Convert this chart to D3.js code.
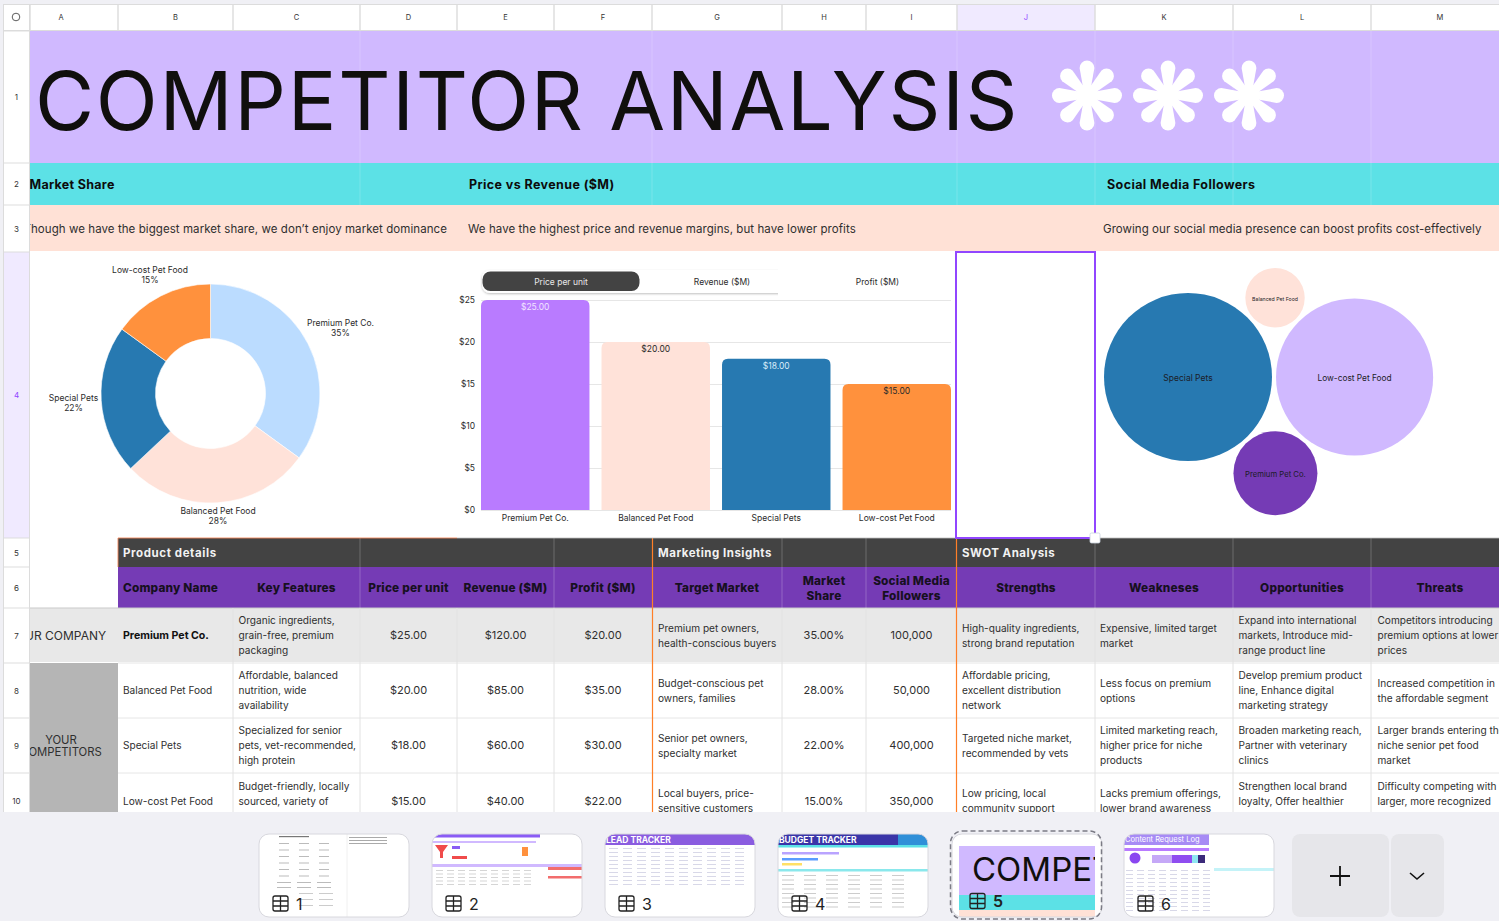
<!DOCTYPE html>
<html>
<head>
<meta charset="utf-8">
<script src="https://cdn.jsdelivr.net/npm/d3@7"></script>
<style>
html, body { margin: 0; padding: 0; background: #f0f0f5; overflow: hidden; }
svg { display: block; font-family: Inter, "Noto Sans", sans-serif; }
text { fill: #2b2b2b; }
</style>
</head>
<body>
<svg id="sheet" width="1499" height="921"></svg>
<script>
const columnLetters = ["A", "B", "C", "D", "E", "F", "G", "H", "I", "J", "K", "L", "M"];
const columnEdges = [30, 118, 233, 360, 457, 554, 652, 782, 866, 957, 1095, 1233, 1371, 1509];
const rowLabels = ["1", "2", "3", "4", "5", "6", "7", "8", "9", "10"];
const rowEdges = [31, 163, 205, 252, 538, 567, 608, 663, 718, 773, 828];

const companies = ["Premium Pet Co.", "Balanced Pet Food", "Special Pets", "Low-cost Pet Food"];
const marketShare = [35, 28, 22, 15];
const pricePerUnit = [25, 20, 18, 15];
const revenue = [120, 85, 60, 40];
const profit = [20, 35, 30, 22];
const followers = [100000, 50000, 400000, 350000];
const priceTicks = [0, 5, 10, 15, 20, 25];
const tabLabels = ["Price per unit", "Revenue ($M)", "Profit ($M)"];

const keyFeatures = [
    ["Organic ingredients,", "grain-free, premium", "packaging"],
    ["Affordable, balanced", "nutrition, wide", "availability"],
    ["Specialized for senior", "pets, vet-recommended,", "high protein"],
    ["Budget-friendly, locally", "sourced, variety of", "options"]
];
const targetMarket = [
    ["Premium pet owners,", "health-conscious buyers"],
    ["Budget-conscious pet", "owners, families"],
    ["Senior pet owners,", "specialty market"],
    ["Local buyers, price-", "sensitive customers"]
];
const strengths = [
    ["High-quality ingredients,", "strong brand reputation"],
    ["Affordable pricing,", "excellent distribution", "network"],
    ["Targeted niche market,", "recommended by vets"],
    ["Low pricing, local", "community support"]
];
const weaknesses = [
    ["Expensive, limited target", "market"],
    ["Less focus on premium", "options"],
    ["Limited marketing reach,", "higher price for niche", "products"],
    ["Lacks premium offerings,", "lower brand awareness"]
];
const opportunities = [
    ["Expand into international", "markets, Introduce mid-", "range product line"],
    ["Develop premium product", "line, Enhance digital", "marketing strategy"],
    ["Broaden marketing reach,", "Partner with veterinary", "clinics"],
    ["Strengthen local brand", "loyalty, Offer healthier", "options"]
];
const threats = [
    ["Competitors introducing", "premium options at lower", "prices"],
    ["Increased competition in", "the affordable segment"],
    ["Larger brands entering the", "niche senior pet food", "market"],
    ["Difficulty competing with", "larger, more recognized", "brands"]
];
const columnTitles = ["Company Name", "Key Features", "Price per unit", "Revenue ($M)", "Profit ($M)",
    "Target Market", ["Market", "Share"], ["Social Media", "Followers"],
    "Strengths", "Weakneses", "Opportunities", "Threats"];

const pieColors = ["#bbdcff", "#ffe2d9", "#2779b1", "#ff913d"];
const barColors = ["#b97bff", "#ffe2d9", "#2779b1", "#ff913d"];
const barTextColors = ["#f1e3ff", "#2b2b2b", "#d8ecfa", "#2b2b2b"];
const bubbleColors = ["#753bb5", "#ffe2d9", "#2779b1", "#d0b9ff"];
const bubbleFontSizes = [7.7, 5.2, 8.5, 8.3];

const svg = d3.select("#sheet");
const defs = svg.append("defs");
defs.append("clipPath").attr("id", "gridClip").append("rect")
    .attr("x", 30).attr("y", 5).attr("width", 1469).attr("height", 807);

const usd = d3.format("$,.2f");

function colX(i) { return columnEdges[i]; }
function colW(i) { return columnEdges[i + 1] - columnEdges[i]; }
function rowY(i) { return rowEdges[i]; }
function rowH(i) { return rowEdges[i + 1] - rowEdges[i]; }

// multi line text centred on y
function addLines(g, lines, x, y, anchor, opts = {}) {
    const lh = opts.lineHeight || 15;
    const list = Array.isArray(lines) ? lines : [lines];
    const t = g.append("text")
        .attr("text-anchor", anchor)
        .attr("font-size", opts.size || 11)
        .attr("font-weight", opts.weight || 400)
        .attr("letter-spacing", opts.spacing || 0)
        .style("fill", opts.color || "#2f2f2f");
    list.forEach((line, i) => {
        t.append("tspan")
            .attr("x", x)
            .attr("y", y + (i - (list.length - 1) / 2) * lh + (opts.size || 11) * 0.36)
            .text(line);
    });
    return t;
}

// ---- page chrome
svg.append("rect").attr("x", 3).attr("y", 4).attr("width", 1496).attr("height", 808).attr("fill", "#dcdcdc");
svg.append("rect").attr("x", 3).attr("y", 31).attr("width", 27).attr("height", 781).attr("fill", "#dcdcdc");

const grid = svg.append("g").attr("clip-path", "url(#gridClip)");
grid.append("rect").attr("x", 30).attr("y", 31).attr("width", 1469).attr("height", 781).attr("fill", "#fff");

// column header
const colHead = svg.append("g");
colHead.append("rect").attr("x", 4).attr("y", 5).attr("width", 25).attr("height", 25).attr("fill", "#fff");
colHead.append("circle").attr("cx", 16).attr("cy", 17).attr("r", 3.8)
    .attr("fill", "none").attr("stroke", "#333").attr("stroke-width", 0.8);
columnLetters.forEach((letter, i) => {
    const selected = letter === "J";
    const labelX = i === 0 ? 61 : colX(i) + colW(i) / 2;
    colHead.append("rect")
        .attr("x", colX(i) + 0.7).attr("y", 5)
        .attr("width", Math.min(colW(i) - 1.4, 1499 - colX(i))).attr("height", 25)
        .attr("fill", selected ? "#f0eaff" : "#fff");
    addLines(colHead, letter, labelX, 17, "middle",
        { size: 7.5, color: selected ? "#9146ff" : "#333" });
});

// row header
rowLabels.forEach((label, i) => {
    const selected = label === "4";
    const bottom = Math.min(rowEdges[i + 1] - 0.5, 812);
    svg.append("rect")
        .attr("x", 4).attr("y", rowY(i) + 0.5)
        .attr("width", 25).attr("height", bottom - rowY(i) - 0.5)
        .attr("fill", selected ? "#f0eaff" : "#fff");
    addLines(svg, label, 16.5, rowY(i) + rowH(i) / 2 + 0.5, "middle",
        { size: 8, color: selected ? "#9146ff" : "#333" });
});

// ---- banner rows
grid.append("rect").attr("x", 30).attr("y", rowY(0)).attr("width", 1469).attr("height", rowH(0)).attr("fill", "#d0b9ff");
grid.append("rect").attr("x", 30).attr("y", rowY(1)).attr("width", 1469).attr("height", rowH(1)).attr("fill", "#5ce1e6");
grid.append("rect").attr("x", 30).attr("y", rowY(2)).attr("width", 1469).attr("height", rowH(2) - 1).attr("fill", "#ffe1d6");

[360, 652, 957, 1095, 1233, 1371].forEach(x => {
    grid.append("line").attr("x1", x).attr("x2", x).attr("y1", rowY(0)).attr("y2", rowY(2))
        .attr("stroke", "#fff").attr("stroke-opacity", 0.18);
});

grid.append("text").attr("x", 35).attr("y", 129.5)
    .attr("font-size", 81).attr("font-weight", 400).attr("letter-spacing", 1.7)
    .style("fill", "#100f0d").text("COMPETITOR ANALYSIS");

// asterisks
[1087, 1168, 1249].forEach(cx => {
    const star = grid.append("g").attr("transform", `translate(${cx},95.5)`);
    star.append("circle").attr("r", 11).attr("fill", "#fff");
    d3.range(8).forEach(i => {
        star.append("path")
            .attr("d", "M-2.5,0 L-7.4,-27.6 A7.4,7.4 0 1 1 7.4,-27.6 L2.5,0 Z")
            .attr("transform", `rotate(${i * 45})`)
            .attr("fill", "#fff");
    });
});

addLines(grid, "Market Share", 29.5, 184.5, "start", { size: 12.5, weight: 700, spacing: 0.3, color: "#0c0c0c" });
addLines(grid, "Price vs Revenue ($M)", 469, 184.5, "start", { size: 12.5, weight: 700, spacing: 0.4, color: "#0c0c0c" });
addLines(grid, "Social Media Followers", 1107, 184.5, "start", { size: 12.5, weight: 700, spacing: 0.4, color: "#0c0c0c" });
addLines(grid, "Though we have the biggest market share, we don\u2019t enjoy market dominance", 447, 229, "end", { size: 11.5, spacing: 0.07 });
addLines(grid, "We have the highest price and revenue margins, but have lower profits", 468, 229, "start", { size: 11.5, spacing: 0.07 });
addLines(grid, "Growing our social media presence can boost profits cost-effectively", 1103, 229, "start", { size: 11.5, spacing: 0.05 });

// ---- donut
const pieGroup = grid.append("g").attr("transform", "translate(210.5,393.5)");
const pie = d3.pie().sort(null).value(d => d);
const arc = d3.arc().innerRadius(55).outerRadius(109.5);
const labelOffsets = [[130, -65.5], [7.5, 122.5], [-137, 9.5], [-60.5, -118.5]];
pieGroup.selectAll("path")
    .data(pie(marketShare))
    .join("path")
    .attr("d", arc)
    .attr("fill", (d, i) => pieColors[i])
    .attr("stroke", "#fff")
    .attr("stroke-width", 0.6);
companies.forEach((name, i) => {
    addLines(pieGroup, [name, marketShare[i] + "%"], labelOffsets[i][0], labelOffsets[i][1], "middle",
        { size: 8.5, lineHeight: 10.5, color: "#2b2b2b" });
});

// ---- bar chart
const x = d3.scaleBand().domain(companies).range([481, 951]).paddingInner(0.1).paddingOuter(0);
const y = d3.scaleLinear().domain([0, 25]).range([510, 300]);

const barAxis = grid.append("g").attr("transform", "translate(481,0)")
    .call(d3.axisLeft(y).tickValues(priceTicks).tickSize(-470).tickPadding(6).tickFormat(d => "$" + d));
barAxis.select(".domain").remove();
barAxis.selectAll("line").attr("stroke", "#e6e6e6").attr("stroke-width", 1);
barAxis.selectAll("text").attr("font-size", 8.5).attr("font-family", "Inter").style("fill", "#2b2b2b");

const catAxis = grid.append("g").attr("transform", "translate(0,510)")
    .call(d3.axisBottom(x).tickSize(0).tickPadding(5));
catAxis.select(".domain").remove();
catAxis.selectAll("text").attr("font-size", 8.5).attr("font-family", "Inter").style("fill", "#2b2b2b");

function topRounded(bx, by, w, h, r) {
    return `M${bx},${by + h}V${by + r}Q${bx},${by} ${bx + r},${by}H${bx + w - r}Q${bx + w},${by} ${bx + w},${by + r}V${by + h}Z`;
}
grid.selectAll(".bar")
    .data(pricePerUnit)
    .join("path")
    .attr("class", "bar")
    .attr("d", (d, i) => topRounded(x(companies[i]), y(d), x.bandwidth(), y(0) - y(d), 6))
    .attr("fill", (d, i) => barColors[i]);
pricePerUnit.forEach((d, i) => {
    addLines(grid, usd(d), x(companies[i]) + x.bandwidth() / 2, y(d) + 7, "middle",
        { size: 8.5, color: barTextColors[i] });
});

// tab switcher sits over the top of the chart
defs.append("filter").attr("id", "tabShadow").attr("x", "-5%").attr("y", "-30%").attr("width", "110%").attr("height", "170%")
    .append("feDropShadow").attr("dx", 0).attr("dy", 1).attr("stdDeviation", 1).attr("flood-color", "#000").attr("flood-opacity", 0.25);
grid.append("rect").attr("x", 482).attr("y", 270).attr("width", 400).attr("height", 23).attr("rx", 8)
    .attr("fill", "#fff").attr("filter", "url(#tabShadow)");
grid.append("rect").attr("x", 778).attr("y", 262).attr("width", 130).attr("height", 36).attr("fill", "#fff");
grid.append("rect").attr("x", 482.5).attr("y", 271.5).attr("width", 157).attr("height", 19.5).attr("rx", 8).attr("fill", "#434343");
tabLabels.forEach((label, i) => {
    addLines(grid, label, [561, 722, 877.5][i], 281.5, "middle",
        { size: 8.5, color: i === 0 ? "#e8e8e8" : "#2b2b2b" });
});

// ---- bubbles, followers drive the area and d3 packs them
const radius = d3.scaleSqrt().domain([0, d3.max(followers)]).range([0, 84]);
const bubblePad = 2;
const bubbles = companies.map((name, i) => ({ name, i, r: radius(followers[i]) + bubblePad }));
const order = bubbles.slice().sort((a, b) => b.r - a.r);
d3.packSiblings(order);
const bubbleGroup = grid.append("g")
    .attr("transform", `translate(${1188 - order[0].x},${377 - order[0].y})`);
bubbleGroup.selectAll("circle")
    .data(bubbles)
    .join("circle")
    .attr("cx", d => d.x)
    .attr("cy", d => d.y)
    .attr("r", d => d.r - bubblePad)
    .attr("fill", d => bubbleColors[d.i]);
bubbles.forEach(d => {
    addLines(bubbleGroup, d.name, d.x, d.y + 1, "middle",
        { size: bubbleFontSizes[d.i], color: "#1c1c28" });
});

// ---- table
const dark = grid.append("g");
dark.append("rect").attr("x", 118).attr("y", rowY(4)).attr("width", 1381).attr("height", rowH(4)).attr("fill", "#434343");
dark.append("rect").attr("x", 118).attr("y", rowY(5)).attr("width", 1381).attr("height", rowH(5)).attr("fill", "#753bb5");
addLines(dark, "Product details", 123, 552.5, "start", { size: 11.5, weight: 700, spacing: 0.6, color: "#f2f2f2" });
addLines(dark, "Marketing Insights", 658, 552.5, "start", { size: 11.5, weight: 700, spacing: 0.5, color: "#f2f2f2" });
addLines(dark, "SWOT Analysis", 962, 552.5, "start", { size: 11.5, weight: 700, spacing: 0.5, color: "#f2f2f2" });

columnTitles.forEach((title, i) => {
    const c = i + 1;
    const left = i === 0;
    addLines(dark, title, left ? colX(c) + 5 : colX(c) + colW(c) / 2, 588, left ? "start" : "middle",
        { size: 11.8, weight: 800, spacing: 0.2, lineHeight: 15, color: "#17101f" });
});

grid.append("rect").attr("x", 30).attr("y", rowY(6)).attr("width", 1469).attr("height", rowH(6) - 1).attr("fill", "#e8e8e8");
grid.append("rect").attr("x", 30).attr("y", rowY(7)).attr("width", 88).attr("height", 149).attr("fill", "#b5b5b5");

addLines(grid, "OUR COMPANY", 61, 635.5, "middle", { size: 12 });
addLines(grid, ["YOUR", "COMPETITORS"], 61, 746, "middle", { size: 11.3, lineHeight: 12 });

// horizontal rules first, then vertical ones
[663, 718, 773].forEach(ry => {
    grid.append("line").attr("x1", 118).attr("x2", 1499).attr("y1", ry).attr("y2", ry).attr("stroke", "#e6e6e6");
});
grid.append("line").attr("x1", 30).attr("x2", 1499).attr("y1", 608).attr("y2", 608).attr("stroke", "#c9c9c9");
[233, 360, 457, 554, 782, 866, 1095, 1233, 1371].forEach(cx => {
    grid.append("line").attr("x1", cx).attr("x2", cx).attr("y1", 608).attr("y2", 812).attr("stroke", "#e2e2e2");
});
[360, 554, 782, 866, 1095, 1233, 1371].forEach(cx => {
    grid.append("line").attr("x1", cx).attr("x2", cx).attr("y1", 538).attr("y2", 608)
        .attr("stroke", "#fff").attr("stroke-opacity", 0.22);
});

// one row per company
companies.forEach((name, i) => {
    const cy = rowY(6 + i) + 27.5 + (i === 3 ? 0.8 : 0);
    const row = grid.append("g");
    addLines(row, name, 123, cy, "start", { size: i === 0 ? 10.6 : 10.1, weight: i === 0 ? 700 : 400, color: i === 0 ? "#111" : "#2f2f2f" });
    addLines(row, keyFeatures[i], 238.5, cy, "start", { size: 10.1 });
    addLines(row, usd(pricePerUnit[i]), colX(3) + colW(3) / 2, cy, "middle", { size: 11 });
    addLines(row, usd(revenue[i]), colX(4) + colW(4) / 2, cy, "middle", { size: 11 });
    addLines(row, usd(profit[i]), colX(5) + colW(5) / 2, cy, "middle", { size: 11 });
    addLines(row, targetMarket[i], 658, cy, "start", { size: 10.1 });
    addLines(row, marketShare[i].toFixed(2) + "%", colX(7) + colW(7) / 2, cy, "middle", { size: 11 });
    addLines(row, d3.format(",")(followers[i]), colX(8) + colW(8) / 2, cy, "middle", { size: 11 });
    addLines(row, strengths[i], 962, cy, "start", { size: 10.1 });
    addLines(row, weaknesses[i], 1100, cy, "start", { size: 10.1 });
    addLines(row, opportunities[i], 1238.5, cy, "start", { size: 10.1 });
    addLines(row, threats[i], 1377.5, cy, "start", { size: 10.1 });
});

// orange section dividers
[652.5, 956.5].forEach(cx => {
    grid.append("line").attr("x1", cx).attr("x2", cx).attr("y1", 538).attr("y2", 812)
        .attr("stroke", "#ff7f27").attr("stroke-width", 1.2);
});
grid.append("path").attr("d", "M118,567V538H457").attr("fill", "none").attr("stroke", "#f0875a").attr("stroke-width", 0.9);
grid.append("line").attr("x1", 457).attr("x2", 1499).attr("y1", 538).attr("y2", 538).attr("stroke", "#bdbdbd").attr("stroke-width", 0.8);

// selected cell J4
svg.append("rect").attr("x", 956).attr("y", 252).attr("width", 139).attr("height", 286)
    .attr("fill", "#fff").attr("stroke", "#9146ff").attr("stroke-width", 2);
svg.append("rect").attr("x", 1090).attr("y", 533).attr("width", 10).attr("height", 10).attr("rx", 1.5)
    .attr("fill", "#fff").attr("stroke", "#c8d0dc").attr("stroke-width", 0.8);

// ---- sheet tabs along the bottom
const tabs = svg.append("g");
tabs.append("rect").attr("x", 0).attr("y", 812).attr("width", 1499).attr("height", 109).attr("fill", "#f0f0f5");
const tabX = [259, 432, 605, 778, 952, 1124];
const tabWidth = 150;

defs.selectAll(".tabClip").data(tabX).join("clipPath")
    .attr("class", "tabClip")
    .attr("id", (d, i) => "tab" + i)
    .append("rect")
    .attr("x", d => d).attr("y", 834).attr("width", tabWidth).attr("height", 83).attr("rx", 10);

function miniLines(g, x0, y0, cols, rows, dx, dy, w, color) {
    d3.range(rows).forEach(r => d3.range(cols).forEach(c => {
        g.append("rect").attr("x", x0 + c * dx).attr("y", y0 + r * dy)
            .attr("width", w).attr("height", 1).attr("fill", color);
    }));
}

tabX.forEach((tx, i) => {
    const card = tabs.append("g");
    const inner = card.append("g").attr("clip-path", `url(#tab${i})`);
    inner.append("rect").attr("x", tx).attr("y", 834).attr("width", tabWidth).attr("height", 83).attr("fill", "#fff");
    if (i === 0) {
        inner.append("rect").attr("x", tx + 20).attr("y", 836).attr("width", 30).attr("height", 1.2).attr("fill", "#777");
        miniLines(inner, tx + 20, 843, 3, 6, 20, 6.5, 10, "#bbb");
        miniLines(inner, tx + 90, 837, 1, 3, 0, 3, 38, "#aaa");
        miniLines(inner, tx + 18, 882, 3, 2, 20, 5, 14, "#bbb");
        miniLines(inner, tx + 40, 893, 2, 3, 20, 6, 14, "#ccc");
        inner.append("line").attr("x1", tx + 88).attr("x2", tx + 88).attr("y1", 834).attr("y2", 917).attr("stroke", "#f0f0f0");
    } else if (i === 1) {
        inner.append("rect").attr("x", tx).attr("y", 834).attr("width", 108).attr("height", 3.5).attr("fill", "#8a5cf5");
        inner.append("rect").attr("x", tx).attr("y", 841).attr("width", 104).attr("height", 2).attr("fill", "#d0b9ff");
        inner.append("path").attr("d", `M${tx + 3},845h13l-5,7v6h-3v-6z`).attr("fill", "#f04b4b");
        inner.append("rect").attr("x", tx + 20).attr("y", 846).attr("width", 8).attr("height", 3).attr("fill", "#8a5cf5");
        inner.append("rect").attr("x", tx + 20).attr("y", 856).attr("width", 15).attr("height", 3).attr("fill", "#f04b4b");
        inner.append("rect").attr("x", tx + 90).attr("y", 847).attr("width", 6).attr("height", 9).attr("fill", "#ff913d");
        inner.append("rect").attr("x", tx).attr("y", 864).attr("width", 150).attr("height", 3).attr("fill", "#d0b9ff");
        inner.append("rect").attr("x", tx + 116).attr("y", 867).attr("width", 34).attr("height", 3).attr("fill", "#f26d6d");
        inner.append("rect").attr("x", tx + 116).attr("y", 876).attr("width", 34).attr("height", 2.5).attr("fill", "#f26d6d");
        miniLines(inner, tx + 4, 870, 9, 5, 11, 3.5, 7, "#d5d5d5");
    } else if (i === 2) {
        inner.append("rect").attr("x", tx).attr("y", 834).attr("width", 150).attr("height", 11).attr("fill", "#8a5ce0");
        inner.append("text").attr("x", tx + 1).attr("y", 843).attr("font-size", 8.5).attr("font-weight", 700).style("fill", "#fff").text("LEAD TRACKER");
        miniLines(inner, tx + 4, 848, 10, 10, 14, 4, 9, "#d8d8e8");
    } else if (i === 3) {
        inner.append("rect").attr("x", tx).attr("y", 834).attr("width", 150).attr("height", 11).attr("fill", "#3a35a8");
        inner.append("rect").attr("x", tx + 120).attr("y", 834).attr("width", 30).attr("height", 11).attr("fill", "#2f8fd8");
        inner.append("text").attr("x", tx + 1).attr("y", 843).attr("font-size", 8.5).attr("font-weight", 700).style("fill", "#fff").text("BUDGET TRACKER");
        inner.append("rect").attr("x", tx).attr("y", 845).attr("width", 150).attr("height", 2.5).attr("fill", "#5ce1e6");
        inner.append("rect").attr("x", tx + 4).attr("y", 852).attr("width", 57).attr("height", 2.5).attr("fill", "#b9a3ff");
        inner.append("rect").attr("x", tx + 4).attr("y", 858).attr("width", 36).attr("height", 2.5).attr("fill", "#5a9cff");
        inner.append("rect").attr("x", tx + 4).attr("y", 863).attr("width", 20).attr("height", 2.5).attr("fill", "#ffe066");
        inner.append("rect").attr("x", tx).attr("y", 869).attr("width", 150).attr("height", 2.5).attr("fill", "#8ae8ec");
        miniLines(inner, tx + 4, 875, 6, 8, 22, 4.5, 12, "#ccc");
    } else if (i === 4) {
        inner.append("rect").attr("x", tx + 7).attr("y", 840).attr("width", 136).attr("height", 6).attr("fill", "#fff");
        inner.append("rect").attr("x", tx + 7).attr("y", 846).attr("width", 136).attr("height", 49).attr("fill", "#d0b9ff");
        inner.append("rect").attr("x", tx + 7).attr("y", 895).attr("width", 136).attr("height", 15).attr("fill", "#5ce1e6");
        inner.append("rect").attr("x", tx + 7).attr("y", 910).attr("width", 136).attr("height", 7).attr("fill", "#ffe1d6");
        inner.append("text").attr("x", tx + 20).attr("y", 881).attr("font-size", 33).style("fill", "#100f0d").text("COMPET");
        inner.append("rect").attr("x", tx + 143).attr("y", 834).attr("width", 7).attr("height", 83).attr("fill", "#fff");
    } else {
        inner.append("rect").attr("x", tx).attr("y", 834).attr("width", 85).attr("height", 11).attr("fill", "#a78bf5");
        inner.append("text").attr("x", tx + 1).attr("y", 842).attr("font-size", 7.5).style("fill", "#fff").text("Content Request Log");
        inner.append("rect").attr("x", tx).attr("y", 848).attr("width", 85).attr("height", 3).attr("fill", "#b97bff");
        inner.append("circle").attr("cx", tx + 11).attr("cy", 858).attr("r", 5.5).attr("fill", "#8a46f0");
        inner.append("rect").attr("x", tx + 28).attr("y", 855).attr("width", 20).attr("height", 8).attr("fill", "#c5a8f7");
        inner.append("rect").attr("x", tx + 48).attr("y", 855).attr("width", 20).attr("height", 8).attr("fill", "#8f4df0");
        inner.append("rect").attr("x", tx + 68).attr("y", 855).attr("width", 6).attr("height", 8).attr("fill", "#8fe6f2");
        inner.append("rect").attr("x", tx + 74).attr("y", 855).attr("width", 7).attr("height", 8).attr("fill", "#3b2a7a");
        inner.append("rect").attr("x", tx + 90).attr("y", 868).attr("width", 60).attr("height", 3).attr("fill", "#c4f3f8");
        miniLines(inner, tx + 2, 870, 8, 11, 11, 4, 7, "#d8d8e8");
    }
    card.append("rect").attr("x", tx).attr("y", 834).attr("width", tabWidth).attr("height", 83).attr("rx", 10)
        .attr("fill", "none").attr("stroke", "#d8d8de").attr("stroke-width", 1);
    if (i === 4) {
        card.append("rect").attr("x", tx - 1.5).attr("y", 831).attr("width", tabWidth + 1).attr("height", 88).attr("rx", 12)
            .attr("fill", "none").attr("stroke", "#7b7b85").attr("stroke-width", 1.5).attr("stroke-dasharray", "5,3");
    }
    // little table icon and sheet number
    const ix = tx + (i === 4 ? 18 : 14);
    const iy = i === 4 ? 893.5 : 896;
    const icon = card.append("g").attr("fill", "none").attr("stroke", "#222").attr("stroke-width", 1.3);
    icon.append("rect").attr("x", ix).attr("y", iy).attr("width", 15).attr("height", 15).attr("rx", 2);
    icon.append("path").attr("d", `M${ix},${iy + 5}h15M${ix},${iy + 10}h15M${ix + 7.5},${iy}v15`);
    card.append("text").attr("x", ix + 23).attr("y", iy + 13.5).attr("font-size", 16)
        .attr("font-weight", i === 4 ? 600 : 400).style("fill", "#222").text(i + 1);
});

tabs.append("rect").attr("x", 1292).attr("y", 834).attr("width", 97).attr("height", 83).attr("rx", 8).attr("fill", "#e6e6ea");
tabs.append("rect").attr("x", 1391).attr("y", 834).attr("width", 53).attr("height", 83).attr("rx", 8).attr("fill", "#e6e6ea");
tabs.append("path").attr("d", "M1340,866v20M1330,876h20").attr("stroke", "#111").attr("stroke-width", 1.8);
tabs.append("path").attr("d", "M1410,873l7,6l7,-6").attr("fill", "none").attr("stroke", "#111").attr("stroke-width", 1.6);
</script>
</body>
</html>
